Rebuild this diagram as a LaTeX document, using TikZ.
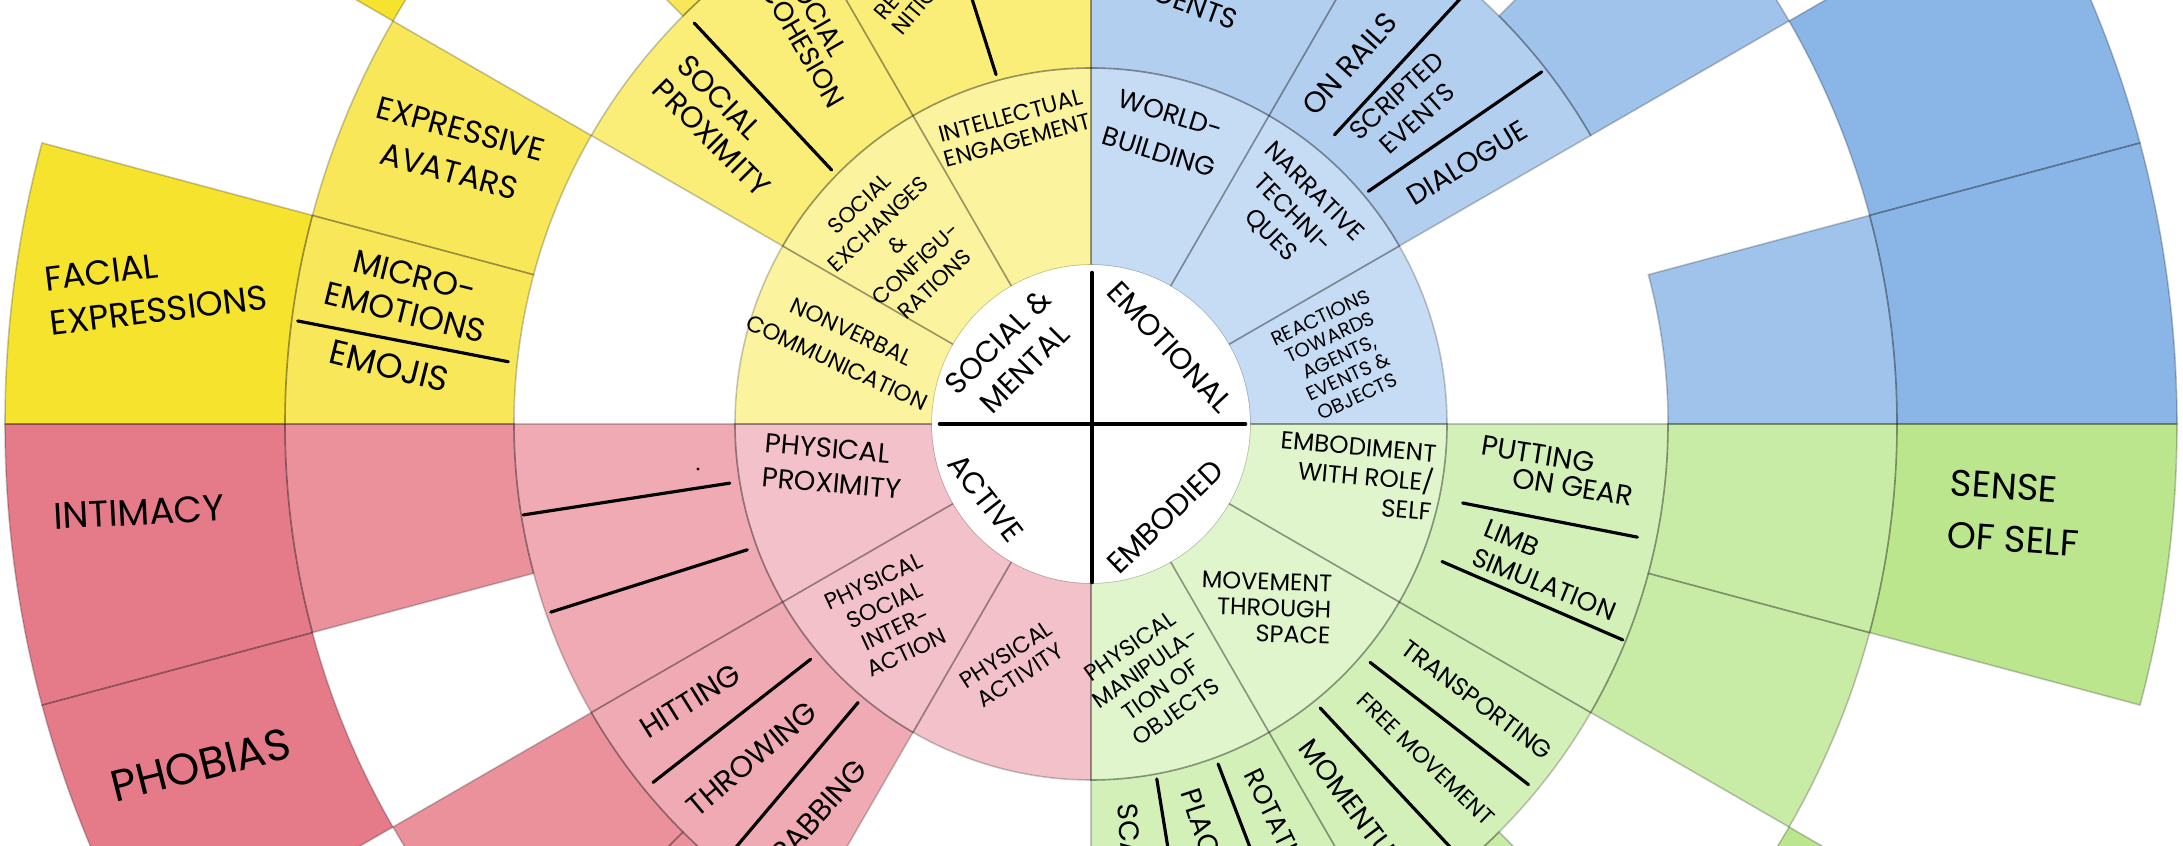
\documentclass[tikz,border=0pt]{standalone}
\usepackage{fontspec}
\setmainfont{Poppins}
\usepackage{tikz}

% ring colours, light to dark
\definecolor{yA}{RGB}{251,243,158}
\definecolor{yB}{RGB}{250,237,120}
\definecolor{yC}{RGB}{248,231,88}
\definecolor{yD}{RGB}{246,227,45}
\definecolor{bA}{RGB}{198,220,245}
\definecolor{bB}{RGB}{178,207,240}
\definecolor{bC}{RGB}{160,195,236}
\definecolor{bD}{RGB}{137,181,231}
\definecolor{rA}{RGB}{243,193,201}
\definecolor{rB}{RGB}{240,170,179}
\definecolor{rC}{RGB}{234,145,156}
\definecolor{rD}{RGB}{229,123,137}
\definecolor{gA}{RGB}{224,245,204}
\definecolor{gB}{RGB}{210,240,184}
\definecolor{gC}{RGB}{200,235,166}
\definecolor{gD}{RGB}{188,230,142}

\tikzset{
  wedge/.style={draw=black, draw opacity=0.22, line width=0.45pt},
  divider/.style={line width=0.9pt, line cap=round},
  lab/.style={inner sep=0pt, align=center, text=black},
  fs/.style 2 args={font=\fontsize{#1}{#2}\selectfont},
  hub/.style={lab, fs={8.5}{10.7}}
}

\begin{document}
\begin{tikzpicture}[x=0.01cm, y=0.01cm]

	\def\rO{159} \def\rA{356} \def\rB{577} \def\rC{806} \def\rD{1086}

	\useasboundingbox (-1091,-422) rectangle (1092,424);
	\clip (-1091,-422) rectangle (1092,424);

	% start/end angle, inner/outer radius, colour
	\def\seglist{
		90/120/\rO/\rA/yA, 120/150/\rO/\rA/yA, 150/180/\rO/\rA/yA,
		90/120/\rA/\rB/yB, 120/150/\rA/\rB/yB,
		120/135/\rB/\rC/yC, 150/165/\rB/\rC/yC, 165/180/\rB/\rC/yC,
		135/150/\rC/\rD/yD, 165/180/\rC/\rD/yD,
		0/30/\rO/\rA/bA, 30/60/\rO/\rA/bA, 60/90/\rO/\rA/bA,
		30/60/\rA/\rB/bB, 60/90/\rA/\rB/bB,
		0/15/\rB/\rC/bC, 30/45/\rB/\rC/bC,
		0/15/\rC/\rD/bD, 15/30/\rC/\rD/bD,
		180/210/\rO/\rA/rA, 210/240/\rO/\rA/rA, 240/270/\rO/\rA/rA,
		180/210/\rA/\rB/rB, 210/240/\rA/\rB/rB,
		180/195/\rB/\rC/rC, 210/225/\rB/\rC/rC, 225/240/\rB/\rC/rC,
		180/195/\rC/\rD/rD, 195/210/\rC/\rD/rD,
		270/300/\rO/\rA/gA, 300/330/\rO/\rA/gA, 330/360/\rO/\rA/gA,
		270/300/\rA/\rB/gB, 300/330/\rA/\rB/gB, 330/360/\rA/\rB/gB,
		300/315/\rB/\rC/gC, 330/345/\rB/\rC/gC, 345/360/\rB/\rC/gC,
		315/330/\rC/\rD/gD, 345/360/\rC/\rD/gD}

	% fills first, then the thin borders
	\foreach \a/\b/\ri/\ro/\c in \seglist
		\fill[\c] (\a:\ri) arc[start angle=\a, end angle=\b, radius=\ri]
			-- (\b:\ro) arc[start angle=\b, end angle=\a, radius=\ro] -- cycle;
	\foreach \a/\b/\ri/\ro/\c in \seglist
		\draw[wedge] (\a:\ri) arc[start angle=\a, end angle=\b, radius=\ri]
			-- (\b:\ro) arc[start angle=\b, end angle=\a, radius=\ro] -- cycle;

	% hand drawn dividers inside segments
	\foreach \a/\ra/\b/\rb in {105.2/362/105.8/480, 135.6/363/134.7/564, 173.9/586/172.6/800,
		49.9/378/49/575, 40/362/38/572,
		189.3/366/189.1/575, 200.1/366/199.2/572, 220/366/219.3/566, 230.1/363/230/570,
		348/380/348.3/558, 338.6/377/337.9/574, 319.5/367/320.5/567, 308.9/365/310.4/570,
		280.5/361/280.2/470, 290.5/363/290.6/470}
		\draw[divider] (\a:\ra) -- (\b:\rb);
	\fill (-393,-45) circle[radius=1.6];

	% centre
	\fill[white] (0,0) circle[radius=\rO];
	\draw[line width=1.3pt, line cap=round] (1,151) -- (1,-158);
	\draw[line width=1.3pt, line cap=round] (-151,0) -- (154,0);
	\node[hub, rotate=45] (hubSM) at (-80,69) {SOCIAL \&\\MENTAL};
	\node[hub, rotate=-47] (hubEM) at (79,77) {EMOTIONAL};
	\node[hub, rotate=-52] (hubAC) at (-105,-74) {ACTIVE};
	\node[hub, rotate=44] (hubEB) at (74,-93) {EMBODIED};

	% inner ring
	\node[lab, fs={6.5}{7.2}, rotate=15] (intel) at (-77,296) {INTELLECTUAL\\ENGAGEMENT};
	\node[lab, fs={6.2}{7.8}, rotate=43] (socex) at (-194,180) {SOCIAL\\EXCHANGES\\\&\\CONFIGU-\\RATIONS};
	\node[lab, fs={6.5}{9.7}, rotate=-25] (nonverb) at (-247,77) {NONVERBAL\\COMMUNICATION};
	\node[lab, fs={7.5}{11.4}, rotate=-17] (world) at (74,291) {WORLD-\\BUILDING};
	\node[lab, fs={7}{8.7}, rotate=-45] (narr) at (201,210) {NARRATIVE\\TECHNI-\\QUES};
	\node[lab, fs={5.6}{6.2}, rotate=25] (react) at (248,67) {REACTIONS\\TOWARDS\\AGENTS,\\EVENTS \&\\OBJECTS};
	\node[lab, align=left, fs={7.8}{9.8}, rotate=-5] (physprox) at (-258,-42) {PHYSICAL\\PROXIMITY};
	\node[lab, fs={6.5}{7.4}, rotate=25] (physsoc) at (-201,-193) {PHYSICAL\\SOCIAL\\INTER-\\ACTION};
	\node[lab, fs={6.5}{7.2}, rotate=33] (physact) at (-78,-241) {PHYSICAL\\ACTIVITY};
	\node[lab, align=right, fs={7}{8.3}, rotate=-5] (embod) at (265,-52) {EMBODIMENT\\WITH ROLE/\\SELF};
	\node[lab, align=right, fs={6.8}{7.4}, rotate=-2, anchor=east] (movem) at (241,-186) {MOVEMENT\\THROUGH\\SPACE};
	\node[lab, fs={6.5}{7.6}, rotate=35] (manip) at (62,-255) {PHYSICAL\\MANIPULA-\\TION OF\\OBJECTS};

	% second ring
	\node[lab, align=left, fs={7.8}{7.8}, rotate=-60, anchor=east] (cohes) at (-241,325) {SOCIAL\\COHESION};
	\node[lab, align=left, fs={6.3}{6.6}, rotate=50, anchor=north west] (recog) at (-219,412) {RECOG-\\NITION};
	\node[lab, align=left, fs={8.5}{9.7}, rotate=-45] (socprox) at (-367,298) {SOCIAL\\PROXIMITY};
	\node[lab, fs={8}{9}, rotate=-20, anchor=east] (agents) at (146,403) {AGENTS};
	\node[lab, fs={8.3}{9}, rotate=48, anchor=west] (rails) at (216,313) {ON RAILS};
	\node[lab, fs={7.3}{8.8}, rotate=42] (script) at (316,317) {SCRIPTED\\EVENTS};
	\node[lab, fs={8}{9}, rotate=31] (dialog) at (376,261) {DIALOGUE};
	\node[lab, fs={8.5}{9}, rotate=32] (hit) at (-401,-277) {HITTING};
	\node[lab, fs={8.5}{9}, rotate=40] (throw) at (-339,-335) {THROWING};
	\node[lab, fs={8.5}{9}, rotate=48, anchor=east] (grab) at (-229,-340) {GRABBING};
	\node[lab, fs={8}{9}, rotate=-85, anchor=west] (scal) at (36,-379) {SCALING};
	\node[lab, fs={8}{9}, rotate=-72, anchor=west] (plac) at (99,-365) {PLACING};
	\node[lab, fs={7.5}{9}, rotate=-64, anchor=west] (rota) at (160,-346) {ROTATING};
	\node[lab, fs={8}{9}, rotate=-53, anchor=west] (momt) at (214,-318) {MOMENTUM};
	\node[lab, fs={6.5}{8}, rotate=-44] (free) at (335,-335) {FREE MOVEMENT};
	\node[lab, fs={7}{8}, rotate=-37] (trans) at (386,-276) {TRANSPORTING};
	\node[lab, fs={8}{9}, rotate=-9] (putA) at (447,-30) {PUTTING};
	\node[lab, fs={8}{9}, rotate=-9] (putB) at (482,-63) {ON GEAR};
	\node[lab, align=left, fs={7.5}{8.7}, rotate=-22] (limb) at (459,-146) {LIMB\\SIMULATION};

	% third ring
	\node[lab, fs={9}{12.5}, rotate=-15] (expav) at (-636,274) {EXPRESSIVE\\AVATARS};
	\node[lab, fs={9.3}{10.8}, rotate=-14] (micro) at (-681,130) {MICRO-\\EMOTIONS};
	\node[lab, fs={9.8}{10}, rotate=-14] (emoji) at (-702,58) {EMOJIS};

	% outer ring
	\node[lab, align=left, fs={9.8}{12.7}, rotate=7] (facial) at (-935,136) {FACIAL\\EXPRESSIONS};
	\node[lab, fs={10.5}{11}, rotate=3] (intim) at (-952,-88) {INTIMACY};
	\node[lab, fs={12.5}{13}, rotate=14] (phob) at (-890,-341) {PHOBIAS};
	\node[lab, align=left, fs={10.5}{14.8}, rotate=-4] (sense) at (924,-89) {SENSE\\OF SELF};

\end{tikzpicture}
\end{document}
